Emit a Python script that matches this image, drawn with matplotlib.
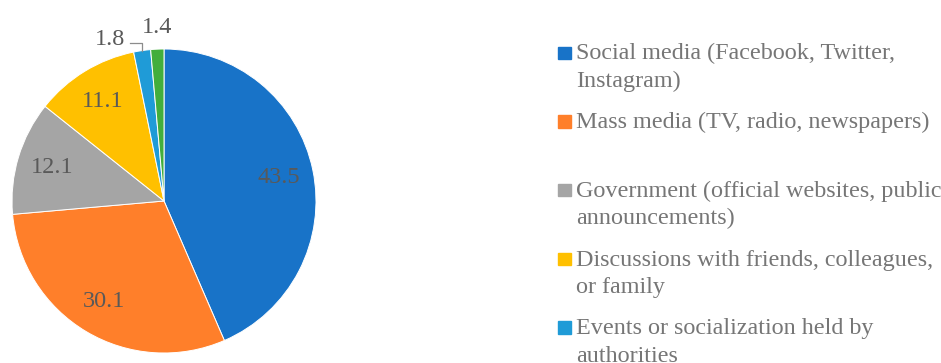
import numpy as np
import matplotlib.pyplot as plt
from matplotlib.patches import Rectangle

plt.rcParams['font.family'] = ['Liberation Serif', 'DejaVu Serif']

# data
sources = [
    "Social media (Facebook, Twitter, Instagram)",
    "Mass media (TV, radio, newspapers)",
    "Government (official websites, public announcements)",
    "Discussions with friends, colleagues, or family",
    "Events or socialization held by authorities",
    "Other",
]
legend_lines = [
    ["Social media (Facebook, Twitter,", "Instagram)"],
    ["Mass media (TV, radio, newspapers)", ""],
    ["Government (official websites, public", "announcements)"],
    ["Discussions with friends, colleagues,", "or family"],
    ["Events or socialization held by", "authorities"],
    ["Other", ""],
]
shares = [43.5, 30.1, 12.1, 11.1, 1.8, 1.4]
colors = ["#1873C8", "#FF7F2A", "#A5A5A5", "#FFC000", "#1F9BD7", "#42AE3C"]

W, H = 941, 363
fig = plt.figure(figsize=(W / 100, H / 100), dpi=100)

# pie axes: centre (164, 201) px, radius 152 px
cx, cy, r = 164, 201, 152
ax = fig.add_axes([(cx - r) / W, (H - cy - r) / H, 2 * r / W, 2 * r / H])
wedges, _ = ax.pie(shares, colors=colors, startangle=90, counterclock=False,
                   wedgeprops=dict(edgecolor="white", linewidth=0.7))
ax.set_xlim(-1, 1)
ax.set_ylim(-1, 1)
ax.set_aspect("equal")
ax.axis("off")

label_color = "#595959"
for w, v in zip(wedges, shares):
    mid = np.deg2rad((w.theta1 + w.theta2) / 2)
    if v > 5:
        ax.text(0.77 * np.cos(mid), 0.77 * np.sin(mid), f"{v:.1f}",
                ha="center", va="center", fontsize=17.5, color=label_color)

# small slices with outside labels
w18, w14 = wedges[4], wedges[5]
m18 = np.deg2rad((w18.theta1 + w18.theta2) / 2)
ex, ey = np.cos(m18), np.sin(m18)
ax.plot([-0.225, ex, ex], [1.041, 1.041, ey], color="#8C8C8C", lw=0.9,
        clip_on=False)
ax.text(-0.255, 1.028, f"{shares[4]:.1f}", ha="right", va="baseline",
        fontsize=17.5, color=label_color, clip_on=False)
m14 = np.deg2rad((w14.theta1 + w14.theta2) / 2)
ax.text(np.cos(m14), 1.105, f"{shares[5]:.1f}", ha="center",
        va="baseline", fontsize=17.5, color=label_color, clip_on=False)

# legend drawn by hand (Excel-like layout); last entry falls below the canvas
text_color = "#767676"
x_text = 576 / W
y0, line_h, entry_h = 59.5, 27.5, 68.7
for i, (lines, c) in enumerate(zip(legend_lines, colors)):
    base = y0 + i * entry_h
    if base > H:
        break
    fig.patches.append(Rectangle((558 / W, 1 - (base - 0.5) / H), 13 / W, 12.5 / H,
                                 transform=fig.transFigure, color=c))
    for j, line in enumerate(lines):
        fig.text(x_text, 1 - (base + j * line_h) / H, line, ha="left",
                 va="baseline", fontsize=17.4, color=text_color)

fig.savefig("out.png", dpi=100)
